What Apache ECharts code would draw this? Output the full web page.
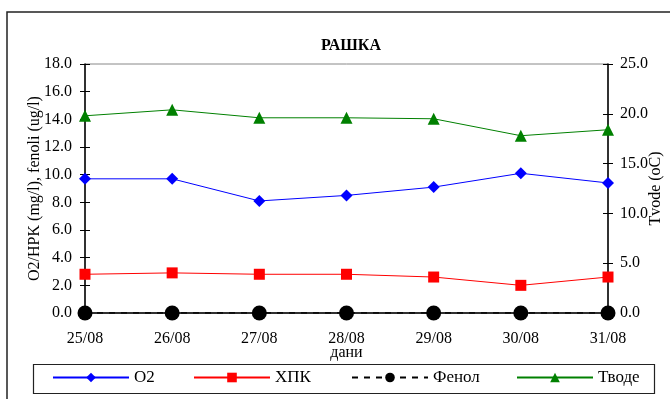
<!DOCTYPE html>
<html><head><meta charset="utf-8">
<script src="https://cdn.jsdelivr.net/npm/echarts@6/dist/echarts.min.js"></script>
<style>html,body{margin:0;padding:0;background:#fff}#c{width:670px;height:399px}</style>
</head><body><div id="c"></div>
<script>
const categories = ['25/08','26/08','27/08','28/08','29/08','30/08','31/08'];
const o2 = [9.7, 9.7, 8.1, 8.5, 9.1, 10.1, 9.4];
const hpk = [2.8, 2.9, 2.8, 2.8, 2.6, 2.0, 2.6];
const fenol = [0, 0, 0, 0, 0, 0, 0];
const tvode = [19.8, 20.4, 19.6, 19.6, 19.5, 17.8, 18.4];
const seriesNames = ['O2', 'ХПК', 'Фенол', 'Тводе'];
const titleText = 'РАШКА';
const leftAxisName = 'O2/HPK (mg/l), fenoli (ug/l)';
const rightAxisName = 'Tvode (oC)';
const xAxisName = 'дани';

const FONT = 'Liberation Serif';
const chart = echarts.init(document.getElementById('c'));
const fmt = v => v.toFixed(1);
const lbl = {fontFamily: FONT, fontSize: 16, color: '#000'};
const legendPos = [52, 193, 351, 516];
chart.setOption({
  animation: false,
  title: {text: titleText, left: 346, top: 33, textAlign: 'center',
    textStyle: {fontFamily: FONT, fontSize: 16, fontWeight: 'bold', color: '#000'}},
  graphic: [
    {type: 'rect', shape: {x: 7, y: 12, width: 700, height: 400},
      style: {fill: 'none', stroke: '#222', lineWidth: 1.5}, z: 100},
    {type: 'rect', shape: {x: 33.5, y: 364.5, width: 621, height: 29},
      style: {fill: 'none', stroke: '#222', lineWidth: 1.2}, z: 100}
  ],
  legend: seriesNames.map((n, i) => ({
    data: [n], left: legendPos[i], top: 369, itemWidth: 76, itemHeight: 12, itemGap: 4,
    padding: 0,
    textStyle: {fontFamily: FONT, fontSize: 17, color: '#000', padding: [0, 0, 0, 0]}
  })),
  grid: {left: 85, right: 62, top: 64, bottom: 86, show: true, borderColor: '#888', borderWidth: 1,
    containLabel: false, outerBoundsMode: 'none'},
  xAxis: {
    type: 'category', data: categories, boundaryGap: false,
    name: xAxisName, nameLocation: 'middle', nameGap: 32, nameMoveOverlap: false,
    nameTextStyle: lbl,
    axisLine: {lineStyle: {color: '#000', width: 1.5}},
    axisTick: {show: true, length: 5, lineStyle: {color: '#000'}},
    axisLabel: Object.assign({margin: 18}, lbl),
    splitLine: {show: false}
  },
  yAxis: [
    {type: 'value', min: 0, max: 18, interval: 2, position: 'left',
      name: leftAxisName, nameLocation: 'middle', nameGap: 42, nameRotate: 90, nameMoveOverlap: false,
      nameTextStyle: lbl,
      axisLine: {show: true, lineStyle: {color: '#000', width: 1.5}},
      axisTick: {show: true, length: 5, lineStyle: {color: '#000'}},
      axisLabel: Object.assign({margin: 13, formatter: fmt}, lbl),
      splitLine: {show: false}},
    {type: 'value', min: 0, max: 25, interval: 5, position: 'right',
      name: rightAxisName, nameLocation: 'middle', nameGap: 40, nameRotate: 90, nameMoveOverlap: false,
      nameTextStyle: lbl,
      axisLine: {show: true, lineStyle: {color: '#000', width: 1.5}},
      axisTick: {show: true, length: 5, lineStyle: {color: '#000'}},
      axisLabel: Object.assign({margin: 12, formatter: fmt}, lbl),
      splitLine: {show: false}},
    {type: 'value', min: 0, max: 18, interval: 2, position: 'left',
      axisLine: {show: false}, axisLabel: {show: false}, splitLine: {show: false},
      axisTick: {show: true, inside: true, length: 5, lineStyle: {color: '#000'}}},
    {type: 'value', min: 0, max: 25, interval: 5, position: 'right',
      axisLine: {show: false}, axisLabel: {show: false}, splitLine: {show: false},
      axisTick: {show: true, inside: true, length: 5, lineStyle: {color: '#000'}}}
  ],
  series: [
    {name: seriesNames[0], type: 'line', data: o2, yAxisIndex: 0, symbol: 'diamond', symbolSize: 12,
      lineStyle: {color: '#0000ff', width: 1}, itemStyle: {color: '#0000ff'}},
    {name: seriesNames[1], type: 'line', data: hpk, yAxisIndex: 0, symbol: 'rect', symbolSize: 11,
      lineStyle: {color: '#ff0000', width: 1}, itemStyle: {color: '#ff0000'}},
    {name: seriesNames[2], type: 'line', data: fenol, yAxisIndex: 0, symbol: 'circle', symbolSize: 15,
      lineStyle: {color: '#000', width: 1.5, type: [6, 6]}, itemStyle: {color: '#000'}, z: 5},
    {name: seriesNames[3], type: 'line', data: tvode, yAxisIndex: 1, symbol: 'triangle', symbolSize: 12,
      lineStyle: {color: '#008000', width: 1}, itemStyle: {color: '#008000'}}
  ]
});
</script></body></html>
